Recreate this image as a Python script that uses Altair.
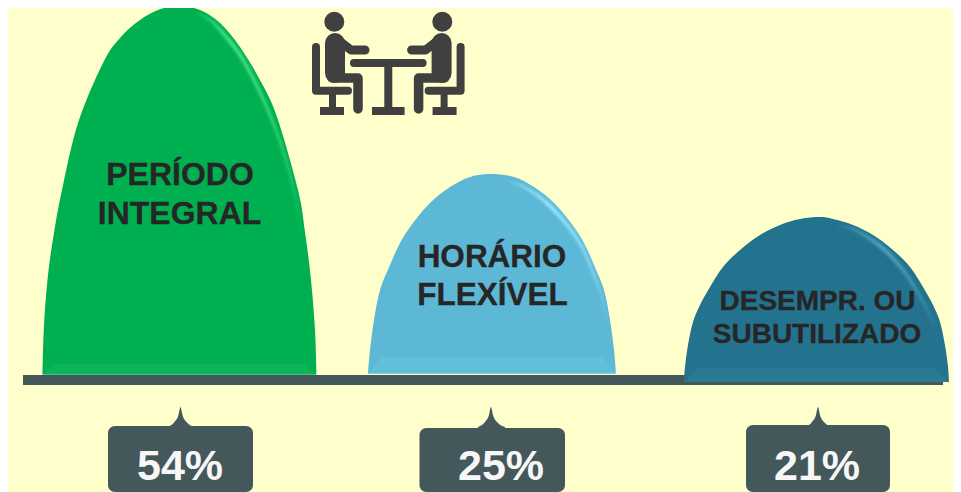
import altair as alt
import pandas as pd

# picture coordinates; the page keeps an 8px margin, so the plot covers 8..953 and 8..492
X0, X1, Y0, Y1 = 8, 953, 8, 492
XS = alt.Scale(domain=[X0, X1])
YS = alt.Scale(domain=[Y1, Y0])

BG = "#FFFFCC"
SLATE = "#44575B"
INK = "#262626"
ICON = "#404040"

# dome outlines
green_x = [42.5, 44, 48, 54, 62, 78, 103, 120, 140, 160, 180, 200, 220, 240, 260, 277, 298, 305, 311, 315, 316.5]
green_y = [374.5, 325, 275, 233, 190, 123, 63, 38, 20, 9.3, 6, 10, 23, 47, 80, 117, 190, 232, 280, 330, 374.5]
blue_x = [368, 370, 374, 380, 390, 400, 413, 430, 450, 470, 490, 514, 534, 554, 571, 584, 594, 604, 610, 614, 616]
blue_y = [373.5, 350, 320, 290, 265, 243, 223, 203, 187, 177, 174, 177, 187, 203, 223, 243, 265, 290, 320, 350, 373.5]
teal_x = [684, 685, 688, 693, 700, 710, 723, 740, 760, 780, 800, 820, 833, 853, 873, 893, 910, 923, 933, 940, 945, 948, 949]
teal_y = [382, 367, 345, 322, 305, 287, 267, 250, 235, 225, 219, 217, 219, 225, 235, 250, 267, 287, 305, 322, 345, 367, 382]

# lighter band at the foot of each dome
green_band_x, green_band_y = [43, 55, 304, 316], [374.5, 363.5, 363.5, 374.5]
blue_band_x, blue_band_y = [369, 381, 603, 615], [373.5, 357, 357, 373.5]
teal_band_x, teal_band_y = [685, 698, 935, 948], [382, 368, 368, 382]

# rim highlights
green_rim_x = [195, 210, 222, 240, 258, 274, 286, 295, 302]
green_rim_y = [12, 20, 32, 55, 88, 125, 160, 195, 235]
blue_rim_x = [505, 520, 537, 552, 568, 582, 592, 601, 607]
blue_rim_y = [180, 185, 195, 208, 226, 247, 270, 294, 323]
teal_rim_x = [835, 855, 872, 887, 903, 917, 928, 936]
teal_rim_y = [224, 230, 240, 252, 270, 291, 311, 330]

# base bar
bar_x, bar_x2, bar_y, bar_y2 = [23], [943], [375], [385]

# callouts
box_x = [108, 419.5, 746]
box_x2 = [253, 565, 890]
box_y = [426, 428, 425]
box_y2 = [492, 492, 492]
spike_dx = [-13, -6, -2, 0, 2, 6, 14]
spike_y = [427, 422, 415, 407, 415, 422, 427]
spike_center = [180.5, 491, 818]
pct_labels = ["54%", "25%", "21%"]
pct_x = [180, 501, 817]
pct_y = [480, 480, 480]

# dome labels
big1_labels = ["PERÍODO", "INTEGRAL"]
big1_x, big1_y = [180, 179.5], [185, 224]
big2_labels = ["HORÁRIO", "FLEXÍVEL"]
big2_x, big2_y = [492, 492.5], [267, 305]
small_labels = ["DESEMPR. OU", "SUBUTILIZADO"]
small_x = [817.5, 817]
small_y = [310, 343]

# pictogram, left half; the right half mirrors it about the table post
MIRROR = 776.6
head_x, head_y = [334.3], [21.7]
chair_back = [(316, 47), (316, 90.7), (348, 90.7)]
chair_post = [(332.5, 90), (332.5, 110)]
torso = [(335, 43), (335, 73)]
leg = [(332, 78), (358, 78), (358, 109)]
arm = [(338, 40), (351, 50), (365, 50)]
table_top = [(354, 63), (422.6, 63)]
table_post = [(388.3, 63), (388.3, 110)]
seat_foot = [(320, 344, 107, 115)]
table_foot = [(372, 404.6, 107, 115)]


def area(xs, ys, color, base, interpolate="cardinal"):
    df = pd.DataFrame({"x": xs, "y": ys, "b": [base] * len(xs)})
    return alt.Chart(df).mark_area(color=color, interpolate=interpolate).encode(
        x=alt.X("x:Q", scale=XS, axis=None),
        y=alt.Y("y:Q", scale=YS, axis=None),
        y2="b:Q",
    )


def line(pts, color, width, interpolate="linear", cap="round", opacity=1):
    df = pd.DataFrame({"x": [p[0] for p in pts], "y": [p[1] for p in pts], "i": range(len(pts))})
    return alt.Chart(df).mark_line(
        stroke=color, strokeWidth=width, strokeCap=cap, strokeJoin="round",
        interpolate=interpolate, opacity=opacity,
    ).encode(
        x=alt.X("x:Q", scale=XS, axis=None),
        y=alt.Y("y:Q", scale=YS, axis=None),
        order="i:Q",
    )


def rect(xs, x2s, ys, y2s, color, radius=0):
    df = pd.DataFrame({"x": xs, "x2": x2s, "y": ys, "y2": y2s})
    return alt.Chart(df).mark_rect(color=color, cornerRadius=radius).encode(
        x=alt.X("x:Q", scale=XS, axis=None),
        x2="x2:Q",
        y=alt.Y("y:Q", scale=YS, axis=None),
        y2="y2:Q",
    )


def text(labels, xs, ys, size, color, halo=0.0):
    df = pd.DataFrame({"t": labels, "x": xs, "y": ys})
    return alt.Chart(df).mark_text(
        font="Liberation Sans", fontWeight="bold", fontSize=size, color=color,
        align="center", baseline="alphabetic", stroke=color, strokeWidth=halo,
    ).encode(
        x=alt.X("x:Q", scale=XS, axis=None),
        y=alt.Y("y:Q", scale=YS, axis=None),
        text="t:N",
    )


def rim(xs, ys, bright, peak):
    grad = {
        "gradient": "linear", "x1": 0, "y1": 0, "x2": 1, "y2": 1,
        "stops": [
            {"offset": 0, "color": bright + "00"},
            {"offset": peak, "color": bright + "FF"},
            {"offset": 1, "color": bright + "00"},
        ],
    }
    pts = list(zip(xs, ys))
    return [
        line(pts, grad, 7, interpolate="cardinal", cap="butt", opacity=0.3),
        line(pts, grad, 4, interpolate="cardinal", cap="butt", opacity=0.4),
        line(pts, grad, 2, interpolate="cardinal", cap="butt", opacity=0.6),
    ]


layers = [
    rect(bar_x, bar_x2, bar_y, bar_y2, SLATE),
    area(green_x, green_y, "#00B050", 374.5),
    area(blue_x, blue_y, "#5DB8D6", 373.5),
    area(teal_x, teal_y, "#23738F", 382),
    area(green_band_x, green_band_y, "#0DB458", 374.5, "linear"),
    area(blue_band_x, blue_band_y, "#63BEDB", 373.5, "linear"),
    area(teal_band_x, teal_band_y, "#2A7A96", 382, "linear"),
    *rim(green_rim_x, green_rim_y, "#4BE38C", 0.22),
    *rim(blue_rim_x, blue_rim_y, "#97E8FF", 0.3),
    *rim(teal_rim_x, teal_rim_y, "#52A6C4", 0.35),
    rect(box_x, box_x2, box_y, box_y2, SLATE, radius=7),
]

for c in spike_center:
    layers.append(area([c + d for d in spike_dx], spike_y, SLATE, 429, "monotone"))

for side in (0, 1):
    fx = (lambda v: MIRROR - v) if side else (lambda v: v)
    flip = lambda pts: [(fx(a), b) for a, b in pts]
    layers += [
        line(flip(chair_back), ICON, 8),
        line(flip(chair_post), ICON, 7, cap="butt"),
        line(flip(torso), ICON, 20),
        line(flip(leg), ICON, 9.5),
        line(flip(arm), ICON, 9),
        rect([min(fx(a), fx(b)) for a, b, _, _ in seat_foot],
             [max(fx(a), fx(b)) for a, b, _, _ in seat_foot],
             [f[2] for f in seat_foot], [f[3] for f in seat_foot], ICON),
    ]
    df_head = pd.DataFrame({"x": [fx(v) for v in head_x], "y": head_y})
    layers.append(
        alt.Chart(df_head).mark_point(filled=True, color=ICON, opacity=1, size=400, shape="circle").encode(
            x=alt.X("x:Q", scale=XS, axis=None),
            y=alt.Y("y:Q", scale=YS, axis=None),
        )
    )

layers += [
    line(table_top, ICON, 8),
    line(table_post, ICON, 8, cap="butt"),
    rect([f[0] for f in table_foot], [f[1] for f in table_foot],
         [f[2] for f in table_foot], [f[3] for f in table_foot], ICON),
    text(big1_labels, big1_x, big1_y, 32, INK, 0.3),
    text(big2_labels, big2_x, big2_y, 31.5, INK, 0.3),
    text(small_labels, small_x, small_y, 28, INK, 0.3),
    text(pct_labels, pct_x, pct_y, 43, "#F7F7F7"),
]

chart = alt.layer(*layers).properties(
    width=X1 - X0,
    height=Y1 - Y0,
    padding=0,
    background=BG,
    autosize=alt.AutoSizeParams(type="none"),
).configure_view(stroke=None)

chart.save("out.html", embed_options={"renderer": "svg", "actions": False})
